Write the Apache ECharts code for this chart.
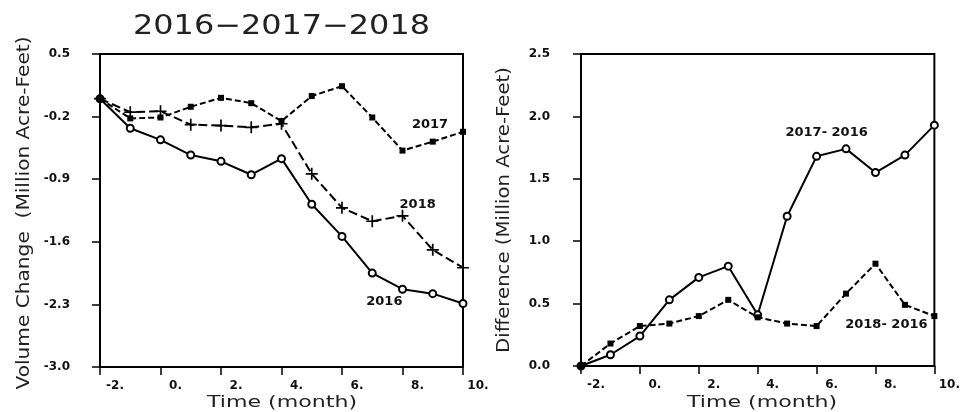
<!DOCTYPE html>
<html>
<head>
<meta charset="utf-8">
<script src="https://cdn.jsdelivr.net/npm/echarts@6/dist/echarts.min.js"></script>
<style>html,body{margin:0;padding:0;background:#fff;}#c{width:963px;height:412px;}</style>
</head>
<body>
<div id="c"></div>
<script>
// ---- data ----
var months = [-2, -1, 0, 1, 2, 3, 4, 5, 6, 7, 8, 9, 10];
var vol2016 = [0.00, -0.33, -0.46, -0.63, -0.70, -0.85, -0.67, -1.18, -1.54, -1.95, -2.13, -2.18, -2.29];
var vol2017 = [0.00, -0.22, -0.21, -0.09, 0.01, -0.05, -0.25, 0.03, 0.14, -0.21, -0.58, -0.48, -0.37];
var vol2018 = [0.00, -0.15, -0.14, -0.29, -0.30, -0.32, -0.28, -0.84, -1.22, -1.37, -1.31, -1.69, -1.89];
var diff2017 = [0.00, 0.09, 0.24, 0.53, 0.71, 0.80, 0.41, 1.20, 1.68, 1.74, 1.55, 1.69, 1.93];
var diff2018 = [0.00, 0.18, 0.32, 0.34, 0.40, 0.53, 0.39, 0.34, 0.32, 0.58, 0.82, 0.49, 0.40];
var xTickLabels = ["-2.", "0.", "2.", "4.", "6.", "8.", "10."];
var leftYTicks = [-3.0, -2.3, -1.6, -0.9, -0.2, 0.5];
var leftYTickLabels = ["-3.0", "-2.3", "-1.6", "-0.9", "-0.2", "0.5"];
var rightYTickLabels = ["0.0", "0.5", "1.0", "1.5", "2.0", "2.5"];

function pairs(vals) { return months.map(function (m, i) { return [m, vals[i]]; }); }

var FONT = '"DejaVu Sans", sans-serif';
function fitScale(text, size, target) {
  var ctx = document.createElement('canvas').getContext('2d');
  ctx.font = 'normal ' + size + 'px "DejaVu Sans"';
  return target / ctx.measureText(text).width;
}

var tickLabelStyle = { fontFamily: FONT, fontWeight: 'bold', fontSize: 12, color: '#111' };

function xAxisCfg(gi) {
  return {
    type: 'value', gridIndex: gi, min: -2, max: 10, interval: 2,
    axisLine: { show: true, onZero: false, lineStyle: { color: '#000', width: 2 } },
    axisTick: { show: true, inside: false, length: 8, lineStyle: { color: '#000', width: 1.5 } },
    splitLine: { show: false },
    axisLabel: Object.assign({
      margin: 13, padding: [0, 0, 0, 30],
      formatter: function (v) { return xTickLabels[Math.round((v + 2) / 2)]; }
    }, tickLabelStyle)
  };
}

function markLabel(text, coord) {
  return {
    symbol: 'circle', symbolSize: 1, silent: true,
    itemStyle: { color: 'rgba(0,0,0,0)' },
    label: { show: true, position: 'inside', formatter: text, fontFamily: FONT, fontWeight: 'bold', fontSize: 13, color: '#111' },
    data: [{ coord: coord }]
  };
}

var plusPath = 'path://M4.3,0h1.4v4.3h4.3v1.4h-4.3v4.3h-1.4v-4.3h-4.3v-1.4h4.3z';

var chart = echarts.init(document.getElementById('c'), null, { renderer: 'canvas' });

var titleText = '2016\u22122017\u22122018';
var xName = 'Time (month)';
var yNameL = 'Volume Change  (Million Acre-Feet)';
var yNameR = 'Difference (Million Acre-Feet)';

chart.setOption({
  animation: false,
  backgroundColor: '#fff',
  grid: [
    { left: 100, top: 54, width: 363, height: 313, show: true, borderColor: '#000', borderWidth: 2, containLabel: false },
    { left: 581, top: 54, width: 362, height: 312, show: true, borderColor: '#000', borderWidth: 2, containLabel: false }
  ],
  xAxis: [xAxisCfg(0), xAxisCfg(1)],
  yAxis: [
    {
      type: 'value', gridIndex: 0, min: -3.0, max: 0.5,
      axisLine: { show: true, onZero: false, lineStyle: { color: '#000', width: 2 } },
      axisTick: { show: true, inside: false, length: 8, customValues: leftYTicks, lineStyle: { color: '#000', width: 1.5 } },
      splitLine: { show: false },
      axisLabel: Object.assign({
        margin: 30, customValues: leftYTicks,
        formatter: function (v) {
          var i = leftYTicks.findIndex(function (t) { return Math.abs(t - v) < 1e-6; });
          return i >= 0 ? leftYTickLabels[i] : '';
        }
      }, tickLabelStyle)
    },
    {
      type: 'value', gridIndex: 1, min: 0, max: 2.5, interval: 0.5,
      axisLine: { show: true, onZero: false, lineStyle: { color: '#000', width: 2 } },
      axisTick: { show: true, inside: false, length: 8, lineStyle: { color: '#000', width: 1.5 } },
      splitLine: { show: false },
      axisLabel: Object.assign({
        margin: 31,
        formatter: function (v) { return rightYTickLabels[Math.round(v / 0.5)]; }
      }, tickLabelStyle)
    }
  ],
  series: [
    {
      name: '2016', type: 'line', xAxisIndex: 0, yAxisIndex: 0, data: pairs(vol2016),
      symbol: 'emptyCircle', symbolSize: 7, showAllSymbol: true,
      lineStyle: { color: '#000', width: 2, type: 'solid' },
      itemStyle: { color: '#000', borderWidth: 1.4 },
      markPoint: markLabel('2016', [7.40, -2.27])
    },
    {
      name: '2017', type: 'line', xAxisIndex: 0, yAxisIndex: 0, data: pairs(vol2017),
      symbol: 'rect', symbolSize: 6, showAllSymbol: true,
      lineStyle: { color: '#000', width: 2, type: [6, 3] },
      itemStyle: { color: '#000' },
      markPoint: markLabel('2017', [8.91, -0.29])
    },
    {
      name: '2018', type: 'line', xAxisIndex: 0, yAxisIndex: 0, data: pairs(vol2018),
      symbol: plusPath, symbolSize: 12, showAllSymbol: true,
      lineStyle: { color: '#000', width: 2, type: [9, 4] },
      itemStyle: { color: '#000' },
      markPoint: markLabel('2018', [8.50, -1.18])
    },
    {
      name: '2017- 2016', type: 'line', xAxisIndex: 1, yAxisIndex: 1, data: pairs(diff2017),
      symbol: 'emptyCircle', symbolSize: 7, showAllSymbol: true,
      lineStyle: { color: '#000', width: 2, type: 'solid' },
      itemStyle: { color: '#000', borderWidth: 1.4 },
      markPoint: markLabel('2017- 2016', [6.34, 1.87])
    },
    {
      name: '2018- 2016', type: 'line', xAxisIndex: 1, yAxisIndex: 1, data: pairs(diff2018),
      symbol: 'rect', symbolSize: 6, showAllSymbol: true,
      lineStyle: { color: '#000', width: 2, type: [6, 3] },
      itemStyle: { color: '#000' },
      markPoint: markLabel('2018- 2016', [8.37, 0.33])
    }
  ],
  graphic: [
    { type: 'text', x: 281.5, y: 27, scaleX: fitScale(titleText, 27, 297), silent: true,
      style: { text: titleText, fontSize: 27, fontFamily: FONT, fill: '#222', align: 'center', verticalAlign: 'middle' } },
    { type: 'text', x: 282, y: 403, scaleX: fitScale(xName, 16, 150), silent: true,
      style: { text: xName, fontSize: 16, fontFamily: FONT, fill: '#222', align: 'center', verticalAlign: 'middle' } },
    { type: 'text', x: 762, y: 403, scaleX: fitScale(xName, 16, 150), silent: true,
      style: { text: xName, fontSize: 16, fontFamily: FONT, fill: '#222', align: 'center', verticalAlign: 'middle' } },
    { type: 'text', x: 25, y: 213, rotation: Math.PI / 2, scaleX: fitScale(yNameL, 17, 353), silent: true,
      style: { text: yNameL, fontSize: 17, fontFamily: FONT, fill: '#222', align: 'center', verticalAlign: 'middle' } },
    { type: 'text', x: 505, y: 210, rotation: Math.PI / 2, scaleX: fitScale(yNameR, 17, 286), silent: true,
      style: { text: yNameR, fontSize: 17, fontFamily: FONT, fill: '#222', align: 'center', verticalAlign: 'middle' } }
  ]
});
</script>
</body>
</html>
